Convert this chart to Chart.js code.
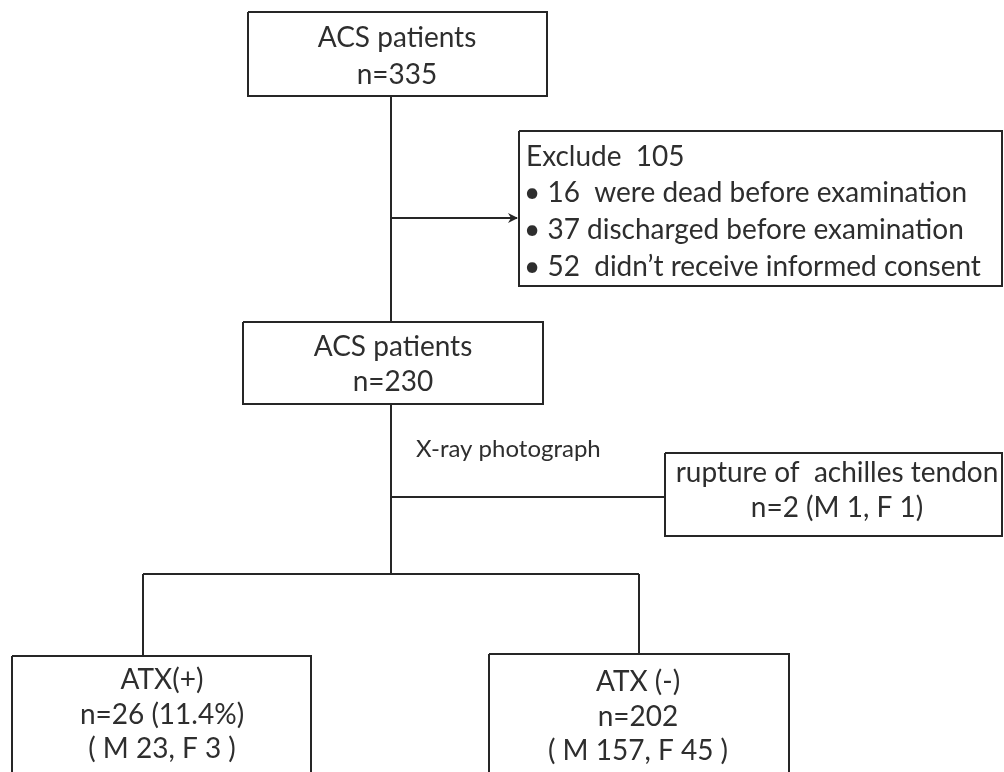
<!DOCTYPE html>
<html>
<head>
<meta charset="utf-8">
<script src="https://cdn.jsdelivr.net/npm/chart.js@4.4.1/dist/chart.umd.min.js"></script>
<style>
  html, body { margin: 0; padding: 0; background: #fff; }
  #wrap { width: 1004px; height: 772px; position: relative; }
</style>
</head>
<body>
<div id="wrap"><canvas id="flow"></canvas></div>
<script>
// flow data
const stageNames = ['ACS patients', 'ACS patients', 'ATX(+)', 'ATX (-)'];
const stageCounts = [335, 230, 26, 202];
const atxPercent = 11.4;
const maleCounts = [23, 157];
const femaleCounts = [3, 45];
const excludeTotal = 105;
const excludeCounts = [16, 37, 52];
const excludeReasons = [' were dead before examination', 'discharged before examination', ' didn\u2019t receive informed consent'];
const ruptureLabel = 'rupture of  achilles tendon';
const ruptureCount = 2;
const ruptureSex = [1, 1];
const stepLabel = 'X-ray photograph';

// layout (page units, same as pixels)
const boxes = {
    top:     [248, 12, 547, 96],
    mid:     [243, 322, 543, 404],
    exclude: [519, 131, 1002, 286],
    rupture: [665, 453, 1002, 536],
    atxPos:  [12, 656, 311, 800],
    atxNeg:  [489, 654, 789, 800]
};
const links = [
    [[391, 96], [391, 322]],
    [[391, 218], [517, 218]],
    [[391, 404], [391, 574]],
    [[391, 497], [665, 497]],
    [[143, 574], [639, 574]],
    [[143, 574], [143, 656]],
    [[639, 574], [639, 654]]
];

const lineColor = '#262626';
const textColor = '#2e2e2e';
const fontFamily = 'Lato, "Open Sans", sans-serif';

const boxDataset = (b) => ({
    data: [
        {x: b[0], y: b[1]}, {x: b[2], y: b[1]}, {x: b[2], y: b[3]},
        {x: b[0], y: b[3]}, {x: b[0], y: b[1]}
    ],
    showLine: true,
    borderColor: lineColor,
    borderWidth: 2,
    pointRadius: 0,
    fill: false,
    tension: 0
});

const linkDataset = (l) => ({
    data: l.map(p => ({x: p[0], y: p[1]})),
    showLine: true,
    borderColor: lineColor,
    borderWidth: 2,
    pointRadius: 0,
    fill: false,
    tension: 0
});

const textItems = [
    {t: stageNames[0], x: 397, y: 38, align: 'center'},
    {t: 'n=' + stageCounts[0], x: 397, y: 75, align: 'center'},
    {t: 'Exclude  ' + excludeTotal, x: 526, y: 157, align: 'left'},
    {t: '\u2022 ' + excludeCounts[0] + ' ' + excludeReasons[0], x: 524, y: 193, align: 'left'},
    {t: '\u2022 ' + excludeCounts[1] + ' ' + excludeReasons[1], x: 524, y: 230, align: 'left'},
    {t: '\u2022 ' + excludeCounts[2] + ' ' + excludeReasons[2], x: 524, y: 267, align: 'left'},
    {t: stageNames[1], x: 393, y: 347, align: 'center'},
    {t: 'n=' + stageCounts[1], x: 393, y: 382, align: 'center'},
    {t: stepLabel, x: 416, y: 449, align: 'left', size: 24},
    {t: ruptureLabel, x: 837, y: 473, align: 'center'},
    {t: 'n=' + ruptureCount + ' (M ' + ruptureSex[0] + ', F ' + ruptureSex[1] + ')', x: 837, y: 508, align: 'center'},
    {t: stageNames[2], x: 162, y: 680, align: 'center'},
    {t: 'n=' + stageCounts[2] + ' (' + atxPercent + '%)', x: 162, y: 715, align: 'center'},
    {t: '( M ' + maleCounts[0] + ', F ' + femaleCounts[0] + ' )', x: 162, y: 749, align: 'center'},
    {t: stageNames[3], x: 638, y: 682, align: 'center'},
    {t: 'n=' + stageCounts[3], x: 638, y: 717, align: 'center'},
    {t: '( M ' + maleCounts[1] + ', F ' + femaleCounts[1] + ' )', x: 638, y: 751, align: 'center'}
];

const flowText = {
    id: 'flowText',
    afterDatasetsDraw(chart) {
        const ctx = chart.ctx;
        const xs = chart.scales.x, ys = chart.scales.y;
        ctx.save();
        ctx.fillStyle = textColor;
        ctx.textBaseline = 'middle';
        textItems.forEach(it => {
            ctx.font = (it.size || 28) + 'px ' + fontFamily;
            ctx.textAlign = it.align;
            ctx.fillText(it.t, xs.getPixelForValue(it.x), ys.getPixelForValue(it.y));
        });
        // arrow head at the exclude link
        const ax = xs.getPixelForValue(links[1][1][0]);
        const ay = ys.getPixelForValue(links[1][1][1]);
        ctx.fillStyle = lineColor;
        ctx.beginPath();
        ctx.moveTo(ax - 9, ay - 5);
        ctx.lineTo(ax + 1, ay);
        ctx.lineTo(ax - 9, ay + 5);
        ctx.lineTo(ax - 6, ay);
        ctx.closePath();
        ctx.fill();
        ctx.restore();
    }
};

const datasets = Object.values(boxes).map(boxDataset).concat(links.map(linkDataset));

new Chart(document.getElementById('flow'), {
    type: 'scatter',
    data: { datasets },
    options: {
        responsive: true,
        maintainAspectRatio: false,
        animation: false,
        layout: { padding: 0 },
        plugins: { legend: { display: false }, tooltip: { enabled: false } },
        scales: {
            x: { type: 'linear', min: 0, max: 1004, display: false },
            y: { type: 'linear', min: 0, max: 772, reverse: true, display: false }
        }
    },
    plugins: [flowText]
});
</script>
</body>
</html>
